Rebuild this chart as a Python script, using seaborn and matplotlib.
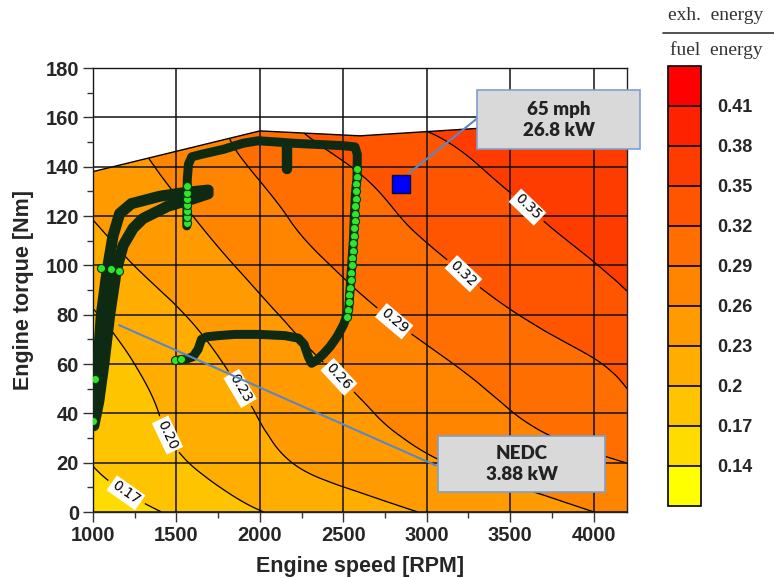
import numpy as np
import matplotlib
matplotlib.use("Agg")
import matplotlib.pyplot as plt
import matplotlib.tri as mtri
from matplotlib.colors import ListedColormap
from matplotlib.patches import Polygon, Rectangle
from matplotlib.lines import Line2D
import seaborn as sns

# ---------------- data ----------------
speed_grid = [1000, 1400, 1800, 2200, 2600, 3000, 3400, 3800, 4200]
torque_grid = [0, 20, 40, 60, 80, 100, 120, 140, 160]
# exhaust energy / fuel energy, rows = torque_grid, cols = speed_grid
ratio_grid = [
    [0.152, 0.1695, 0.190, 0.2066, 0.2193, 0.2317, 0.2430, 0.2543, 0.2655],
    [0.171, 0.1917, 0.2114, 0.2303, 0.2434, 0.2564, 0.2680, 0.2792, 0.2903],
    [0.180, 0.2003, 0.2216, 0.2401, 0.2568, 0.2715, 0.2857, 0.2999, 0.3141],
    [0.187, 0.2082, 0.2310, 0.2512, 0.2687, 0.2840, 0.2983, 0.3119, 0.3254],
    [0.198, 0.2214, 0.2437, 0.2645, 0.2836, 0.2998, 0.3146, 0.3290, 0.3431],
    [0.216, 0.2381, 0.2577, 0.2789, 0.2978, 0.3139, 0.3286, 0.3424, 0.3562],
    [0.231, 0.2502, 0.2706, 0.2920, 0.3101, 0.3264, 0.3406, 0.3548, 0.3690],
    [0.243, 0.2616, 0.2834, 0.3035, 0.3223, 0.3377, 0.3530, 0.3650, 0.3740],
    [0.255, 0.2700, 0.2915, 0.3230, 0.3450, 0.3560, 0.3660, 0.3720, 0.3770],
]
levels = [0.11, 0.14, 0.17, 0.20, 0.23, 0.26, 0.29, 0.32, 0.35, 0.38, 0.41, 0.44]
line_levels = [0.17, 0.20, 0.23, 0.26, 0.29, 0.32, 0.35]
cb_ticks = [0.14, 0.17, 0.20, 0.23, 0.26, 0.29, 0.32, 0.35, 0.38, 0.41]
cb_labels = ["0.14", "0.17", "0.2", "0.23", "0.26", "0.29", "0.32", "0.35", "0.38", "0.41"]
label_speed = [1200, 1440, 1880, 2460, 2800, 3210, 3610]
label_torque = [8, 31, 50, 54, 77, 96, 124]

# full-load torque curve
max_speed = [1000, 2000, 2600, 3300, 4200]
max_torque = [138, 154.5, 152.5, 155.5, 157]

# NEDC operating trace (two passes of the climb + arm, then the loop)
climb_a_speed = [1000, 1005, 1030, 1050, 1085, 1120, 1160, 1230, 1400, 1550, 1690]
climb_a_torque = [36, 40, 60, 80, 98, 112, 121, 125, 128, 129.5, 130.5]
climb_b_speed = [1005, 1035, 1065, 1100, 1140, 1180, 1240, 1300, 1450, 1600, 1690]
climb_b_torque = [35, 45, 60, 80, 98, 108, 115, 119, 124, 127, 129]
loop_speed = [1562, 1563, 1565, 1572, 1592, 1650, 1780, 1900, 1990, 2100, 2200, 2350,
              2500, 2570, 2584, 2582, 2572, 2560, 2545, 2532, 2502, 2462, 2420, 2380,
              2340, 2310, 2290, 2265, 2230, 2150, 2000, 1850, 1750, 1680, 1650, 1630,
              1600, 1560, 1500]
loop_torque = [116, 125, 135, 141, 144, 145, 147, 149.5, 150.5, 150, 149.5, 149,
               148.5, 148, 145, 135, 129, 110, 95, 82, 76, 71, 67, 64,
               61.5, 60.3, 63, 68, 70.5, 71.5, 72, 72, 71.5, 71, 70, 66,
               63, 62, 61.5]
stub_speed = [2160, 2160]
stub_torque = [148, 139]
dots_speed = [2582, 2580, 2579, 2577, 2575, 2573, 2571, 2568, 2566, 2563, 2560, 2557,
              2554, 2551, 2548, 2545, 2541, 2537, 2533, 2529, 2524,
              1562, 1562, 1563, 1563, 1563, 1564, 1564,
              1002, 1012, 1046, 1110, 1156, 1490, 1530]
dots_torque = [139, 136, 133, 130, 127, 124, 121, 118, 115, 112, 109, 106,
               103, 100, 97, 94, 91, 88, 85, 82, 79,
               117, 119.5, 122, 124.5, 127, 129.5, 132,
               37, 54, 99, 98.5, 97.8, 61.6, 62]
hwy_speed = [2848]
hwy_torque = [133]

# ---------------- style ----------------
sns.set_theme(style="ticks")
plt.rcParams["font.family"] = ["Liberation Sans", "DejaVu Sans"]

fig = plt.figure(figsize=(7.74, 5.78), dpi=100)
ax = fig.add_axes([93 / 774, 66 / 578, 534 / 774, 444 / 578])

colors = ["#ffff00", "#ffdc00", "#ffc400", "#ffae00", "#ff9a00", "#ff8400",
          "#ff6e00", "#ff5500", "#ff3c00", "#ff2200", "#ff0000"]
cmap = ListedColormap(colors)

# field, refined with matplotlib's own cubic tri refiner
SS, TT = np.meshgrid(np.array(speed_grid, float), np.array(torque_grid, float))
Z = np.array(ratio_grid).ravel()
tri = mtri.Triangulation(SS.ravel() / 400.0, TT.ravel() / 20.0)
refiner = mtri.UniformTriRefiner(tri)
tri_f, z_f = refiner.refine_field(Z, subdiv=4)
tri_d = mtri.Triangulation(tri_f.x * 400.0, tri_f.y * 20.0, tri_f.triangles)

clip_xy = [(max_speed[0], 0), (max_speed[-1], 0)] + list(zip(max_speed[::-1], max_torque[::-1]))
clip_poly = Polygon(clip_xy, closed=True, facecolor="none", edgecolor="none",
                    transform=ax.transData)
ax.add_patch(clip_poly)

cs = ax.tricontourf(tri_d, z_f, levels=levels, cmap=cmap, vmin=levels[0], vmax=levels[-1], zorder=1)
cs.set_clip_path(clip_poly)
cl = ax.tricontour(tri_d, z_f, levels=line_levels, colors="black", linewidths=0.9, zorder=2)
cl.set_clip_path(clip_poly)
lbls = ax.clabel(cl, inline=True, inline_spacing=9, fontsize=10, fmt="%.2f",
                 manual=list(zip(label_speed, label_torque)))
for t in lbls:
    t.set_bbox(dict(facecolor="white", edgecolor="none", pad=1.5))
    t.set_family("DejaVu Sans")
    t.set_zorder(4)

sns.lineplot(x=max_speed, y=max_torque, color="black", lw=1.0, ax=ax, sort=False,
             estimator=None, zorder=2)

# trace
trace_col = "#0f2a12"
for xs, ys, lw in [(climb_a_speed, climb_a_torque, 8), (climb_b_speed, climb_b_torque, 8),
                   (loop_speed, loop_torque, 6.5), (stub_speed, stub_torque, 7.5)]:
    sns.lineplot(x=xs, y=ys, sort=False, estimator=None, color=trace_col, lw=lw, ax=ax,
                 solid_capstyle="round", solid_joinstyle="round", zorder=5)
sns.scatterplot(x=dots_speed, y=dots_torque, s=34, color="#2ee62e", edgecolor="#0a3a0a",
                linewidth=0.8, ax=ax, zorder=6)
sns.scatterplot(x=hwy_speed, y=hwy_torque, marker="s", s=150, color="#0000ff",
                edgecolor="#00003a", linewidth=1, ax=ax, zorder=7)

# annotations
lead_col = "#5b87c6"
ax.annotate("", xy=(2880, 136.6), xytext=(3310, 160),
            arrowprops=dict(arrowstyle="-", color=lead_col, lw=1.5), zorder=8)
ax.annotate("", xy=(1142, 76.2), xytext=(3070, 18.4),
            arrowprops=dict(arrowstyle="-", color=lead_col, lw=1.5), zorder=8)
for (x0, y0, w, h, txt) in [(3304, 147.0, 972, 24.0, "65 mph\n26.8 kW"),
                            (3068, 8.2, 1000, 22.6, "NEDC\n3.88 kW")]:
    ax.add_patch(Rectangle((x0, y0), w, h, facecolor="#d9d9d9", edgecolor="#7f9fcf",
                           lw=1.2, clip_on=False, zorder=9))
    ax.text(x0 + w / 2, y0 + h / 2, txt, ha="center", va="center", fontsize=13.5,
            fontweight="heavy", family=["Lato", "DejaVu Sans"], color="#222222",
            linespacing=1.3, zorder=10, clip_on=False)

# axes
ax.set_xlim(1000, 4200)
ax.set_ylim(0, 180)
ax.set_xticks([1000, 1500, 2000, 2500, 3000, 3500, 4000])
ax.set_yticks(list(range(0, 181, 20)))
ax.set_xticks(list(range(1000, 4201, 250)), minor=True)
ax.set_yticks(list(range(0, 181, 10)), minor=True)
ax.grid(True, which="major", color="#111111", lw=1.1)
ax.set_axisbelow(False)
ax.tick_params(which="major", direction="out", length=7, width=1, labelsize=14.5, pad=3,
               color="#333333")
ax.tick_params(which="minor", direction="out", length=4, width=1, color="#333333")
for lab in ax.get_xticklabels() + ax.get_yticklabels():
    lab.set_fontweight("bold")
ax.set_xlabel("Engine speed [RPM]", fontsize=15.5, fontweight="bold", labelpad=8)
ax.set_ylabel("Engine torque [Nm]", fontsize=15.5, fontweight="bold", labelpad=8)
for sp in ax.spines.values():
    sp.set_color("#222222")
    sp.set_linewidth(1.0)
    sp.set_visible(True)

# colorbar
cax = fig.add_axes([668 / 774, 1 - 506 / 578, 33 / 774, 440 / 578])
cb = fig.colorbar(cs, cax=cax, drawedges=True, ticks=cb_ticks)
cb.ax.set_yticklabels(cb_labels)
for lab in cb.ax.get_yticklabels():
    lab.set_fontweight("bold")
    lab.set_fontsize(13)
cb.ax.tick_params(length=0, pad=12)
cb.outline.set_linewidth(1.2)
cb.outline.set_edgecolor("black")
cb.dividers.set_color("black")
cb.dividers.set_linewidth(1.2)

fig.text(716 / 774, 1 - 16 / 578, "exh.  energy", ha="center", va="center", fontsize=14,
         family="Liberation Serif", color="#333333")
fig.add_artist(Line2D([663 / 774, 774 / 774], [1 - 33 / 578, 1 - 33 / 578], color="#333333", lw=1.2))
fig.text(716 / 774, 1 - 50 / 578, "fuel  energy", ha="center", va="center", fontsize=14,
         family="Liberation Serif", color="#333333")

fig.savefig("out.png", dpi=100)
